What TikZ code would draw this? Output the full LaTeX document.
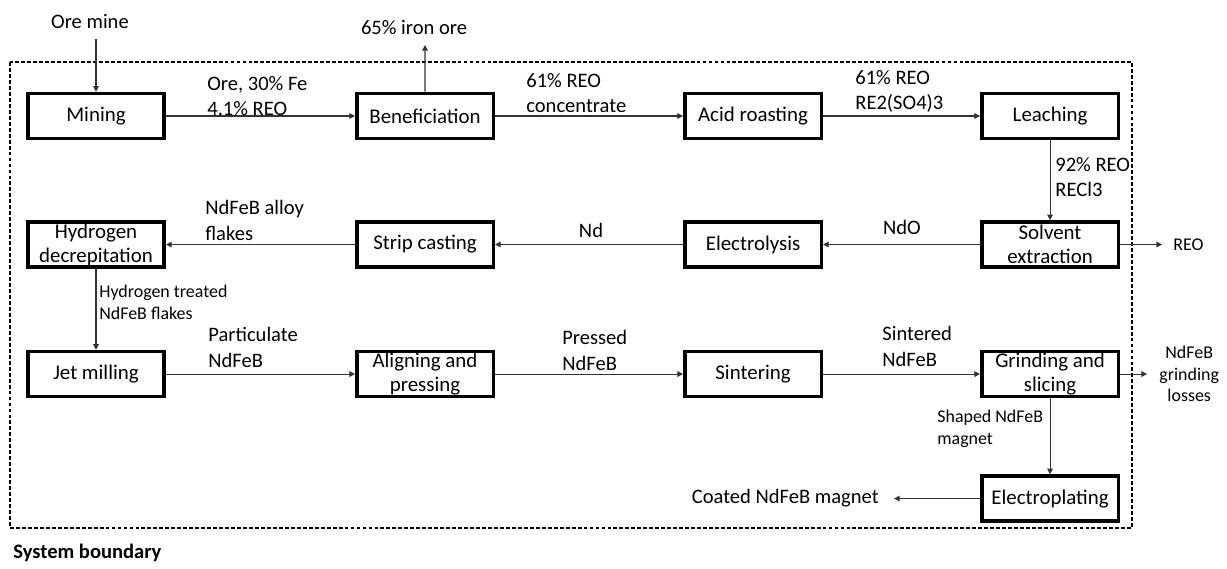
\documentclass[tikz,border=0pt]{standalone}
\usepackage{fontspec}
\setmainfont{Carlito}
\usepackage{tikz}
\usetikzlibrary{positioning, arrows.meta}

\begin{document}
\begin{tikzpicture}[node distance=1.6cm and 3.78cm, >={Triangle[length=3.2pt, width=3.2pt]},
    stepbox/.style={draw, rectangle, line width=2pt, minimum width=2.73cm, minimum height=0.9cm, inner sep=0pt, align=center, font=\fontsize{11.9}{13.6}\selectfont},
    flow/.style={->, line width=0.6pt, black!80},
    lbl/.style={inner sep=0pt, align=left, font=\fontsize{11.7}{14.7}\selectfont},
    smalllbl/.style={inner sep=0pt, align=left, font=\fontsize{10.2}{12.4}\selectfont},
    boundary/.style={draw, line width=0.8pt, dash pattern=on 2.2pt off 1.2pt}]
    \useasboundingbox (0,0) rectangle (24.54,-11.38);

    % System boundary
    \draw[boundary] (0.2,-1.24) rectangle (22.64,-10.56);
    \node[lbl, anchor=west, font=\fontsize{11.7}{14}\selectfont\bfseries] (sysb) at (0.26,-11.06) {System boundary};

    % Process steps
    \node[stepbox] (mining) at (1.92,-2.32) {Mining};
    \node[stepbox, right=of mining] (benef) {Beneficiation};
    \node[stepbox, right=3.76cm of benef] (acid) {Acid roasting};
    \node[stepbox, right=3.14cm of acid] (leach) {Leaching};
    \node[stepbox, below=of leach] (solvent) {Solvent\\extraction};
    \node[stepbox, left=3.14cm of solvent] (electro) {Electrolysis};
    \node[stepbox, left=3.76cm of electro] (strip) {Strip casting};
    \node[stepbox, left=of strip] (hydro) {Hydrogen\\decrepitation};
    \node[stepbox, below=1.62cm of hydro] (jet) {Jet milling};
    \node[stepbox, right=of jet] (align) {Aligning and\\pressing};
    \node[stepbox, right=3.76cm of align] (sinter) {Sintering};
    \node[stepbox, right=3.14cm of sinter] (grind) {Grinding and\\slicing};
    \node[stepbox, below=1.52cm of grind] (plate) {Electroplating};

    % Inputs and outputs
    \node[lbl] (mine) at (1.8,-0.44) {Ore mine};
    \coordinate (minetop) at (1.92,-0.78);
    \node[lbl] (iron) at (8.28,-0.56) {65\% iron ore};
    \coordinate (ironout) at (8.5,-0.9);
    \node[smalllbl, right=0.84cm of solvent, inner xsep=0.22cm] (reo) {REO};
    \node[smalllbl, right=0.54cm of grind, inner xsep=0.24cm, align=center] (losses) {NdFeB\\grinding\\losses};
    \node[lbl, left=1.72cm of plate, inner xsep=0.3cm] (coated) {Coated NdFeB magnet};

    % Stream labels
    \node[lbl, anchor=west] (l1) at (4.14,-1.92) {Ore, 30\% Fe\\4.1\% REO};
    \node[lbl, anchor=west] (l2) at (10.52,-1.86) {61\% REO\\concentrate};
    \node[lbl, anchor=west] (l3) at (17.1,-1.83) {61\% REO\\RE2(SO4)3};
    \node[lbl, anchor=west] (l4) at (21.1,-3.54) {92\% REO\\RECl3};
    \node[lbl] (l5) at (18.04,-4.54) {NdO};
    \node[lbl] (l6) at (11.82,-4.6) {Nd};
    \node[lbl, anchor=west] (l7) at (4.1,-4.41) {NdFeB alloy\\flakes};
    \node[smalllbl, anchor=west] (l8) at (1.98,-6.04) {Hydrogen treated\\NdFeB flakes};
    \node[lbl, anchor=west] (l9) at (4.16,-6.95) {Particulate\\NdFeB};
    \node[lbl, anchor=west] (l10) at (11.24,-7.01) {Pressed\\NdFeB};
    \node[lbl, anchor=west] (l11) at (17.64,-6.93) {Sintered\\NdFeB};
    \node[smalllbl, anchor=west] (l12) at (18.74,-8.58) {Shaped NdFeB\\magnet};

    % Connections
    \draw[flow] (minetop) -- (mining);
    \draw[flow] (benef) -- (ironout);
    \draw[flow] (mining) -- (benef);
    \draw[flow] (benef) -- (acid);
    \draw[flow] (acid) -- (leach);
    \draw[flow] (leach) -- (solvent);
    \draw[flow] (solvent) -- (reo);
    \draw[flow] (solvent) -- (electro);
    \draw[flow] (electro) -- (strip);
    \draw[flow] (strip) -- (hydro);
    \draw[flow] (hydro) -- (jet);
    \draw[flow] (jet) -- (align);
    \draw[flow] (align) -- (sinter);
    \draw[flow] (sinter) -- (grind);
    \draw[flow] (grind) -- (losses);
    \draw[flow] (grind) -- (plate);
    \draw[flow] (plate) -- (coated);
\end{tikzpicture}
\end{document}
